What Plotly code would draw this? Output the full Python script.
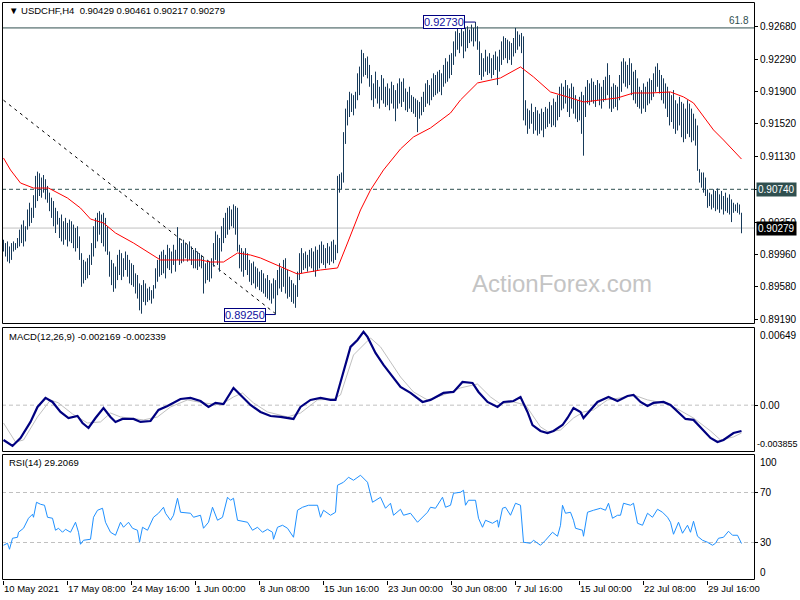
import plotly.graph_objects as go

# ---------------- data ----------------
title_text = "USDCHF,H4\u00a0\u00a00.90429 0.90461 0.90217 0.90279"
macd_text = "MACD(12,26,9) -0.002169 -0.002339"
rsi_text = "RSI(14) 29.2069"

time_label_bars = [0, 32, 64, 96, 128, 160, 192, 224, 256, 288, 320, 352]
time_labels = ["10 May 2021", "17 May 08:00", "24 May 16:00", "1 Jun 00:00", "8 Jun 08:00",
               "15 Jun 16:00", "23 Jun 00:00", "30 Jun 08:00", "7 Jul 16:00", "15 Jul 00:00",
               "22 Jul 08:00", "29 Jul 16:00"]

price_ticks = [0.92680, 0.92290, 0.91900, 0.91520, 0.91130, 0.90740, 0.90350, 0.89960, 0.89580, 0.89190]

bar_high = [
    .9014, .9010, .9012, .9006, .9010, .9012, .9010, .9016, .9026, .9032,
    .9037, .9030, .9050, .9058, .9052, .9067, .9090, .9095, .9093, .9088,
    .9091, .9086, .9078, .9070, .9064, .9060, .9052, .9048, .9040, .9044,
    .9036, .9040, .9034, .9038, .9036, .9032, .9028, .9030, .9018, .8998,
    .8990, .8988, .8992, .8996, .9010, .9030, .9040, .9046, .9048, .9044,
    .9046, .9040, .9030, .9000, .8990, .8986, .8982, .8996, .9002, .8998,
    .8992, .9000, .8996, .8990, .8986, .8984, .8974, .8972, .8962, .8960,
    .8966, .8962, .8956, .8958, .8954, .8960, .8980, .8990, .8996, .9000,
    .9002, .8996, .9008, .9004, .9000, .9008, .9002, .9029, .9016, .9010,
    .9014, .9010, .9008, .9012, .9006, .9002, .9004, .9000, .8998, .8996,
    .8992, .8986, .8990, .8988, .8992, .9010, .9024, .9020, .9016, .9030,
    .9040, .9046, .9052, .9054, .9050, .9056, .9054, .9052, .9008, .9004,
    .9000, .9004, .8998, .8990, .8986, .8988, .8982, .8980, .8976, .8978,
    .8974, .8968, .8972, .8966, .8962, .8968, .8966, .8978, .8986, .8980,
    .8990, .8992, .8978, .8970, .8966, .8962, .8960, .8976, .8998, .9004,
    .8998, .9000, .8996, .9002, .9004, .9000, .9006, .9002, .9008, .9012,
    .9008, .9004, .9010, .9006, .9012, .9014, .9008, .9090, .9092, .9094,
    .9142, .9170, .9180, .9190, .9188, .9186, .9190, .9212, .9220, .9240,
    .9236, .9230, .9232, .9222, .9210, .9200, .9214, .9204, .9196, .9210,
    .9206, .9196, .9200, .9194, .9202, .9198, .9192, .9200, .9206, .9202,
    .9206, .9194, .9190, .9196, .9186, .9184, .9182, .9180, .9178, .9184,
    .9190, .9200, .9204, .9198, .9206, .9212, .9210, .9214, .9216, .9212,
    .9222, .9230, .9226, .9234, .9236, .9250, .9262, .9266, .9260, .9268,
    .9262, .9266, .9268, .9264, .9270, .9266, .9273, .9268, .9250, .9236,
    .9230, .9240, .9232, .9236, .9230, .9234, .9238, .9232, .9240, .9250,
    .9256, .9254, .9252, .9250, .9248, .9254, .9266, .9262, .9258, .9260,
    .9256, .9180, .9170, .9168, .9176, .9166, .9172, .9168, .9164, .9170,
    .9166, .9172, .9170, .9178, .9174, .9182, .9178, .9186, .9196, .9200,
    .9196, .9204, .9198, .9194, .9200, .9196, .9186, .9180, .9184, .9190,
    .9186, .9196, .9204, .9200, .9206, .9202, .9198, .9204, .9200, .9196,
    .9204, .9208, .9224, .9210, .9196, .9200, .9198, .9196, .9210, .9226,
    .9230, .9226, .9222, .9230, .9224, .9214, .9216, .9206, .9196, .9192,
    .9200, .9196, .9202, .9206, .9204, .9212, .9220, .9224, .9216, .9210,
    .9206, .9200, .9196, .9190, .9186, .9192, .9180, .9176, .9184, .9178,
    .9176, .9170, .9180, .9176, .9170, .9164, .9158, .9150, .9098, .9094,
    .9094, .9088, .9074, .9070, .9068, .9074, .9072, .9075, .9068, .9072,
    .9066, .9070, .9064, .9068, .9062, .9058, .9056, .9058, .9056, .90461,
]

bar_low = [
    .9000, .8994, .8988, .8986, .8990, .9000, .9002, .9004, .9006, .9010,
    .9006, .9012, .9026, .9030, .9034, .9040, .9052, .9060, .9066, .9064,
    .9070, .9062, .9058, .9048, .9040, .9030, .9022, .9032, .9016, .9012,
    .9008, .9014, .9006, .9012, .9010, .9004, .9000, .9004, .8990, .8958,
    .8962, .8966, .8968, .8972, .8984, .8994, .9004, .9012, .9020, .9010,
    .9006, .9000, .8996, .8970, .8960, .8952, .8956, .8966, .8972, .8966,
    .8970, .8978, .8970, .8962, .8960, .8958, .8950, .8944, .8930, .8926,
    .8940, .8936, .8940, .8942, .8938, .8944, .8956, .8964, .8970, .8972,
    .8974, .8968, .8980, .8978, .8974, .8984, .8976, .8990, .8984, .8986,
    .8988, .8992, .8988, .8990, .8984, .8980, .8980, .8978, .8982, .8980,
    .8950, .8962, .8966, .8964, .8968, .8982, .8990, .8984, .8976, .9000,
    .9010, .9016, .9020, .9026, .9030, .9028, .9020, .9000, .8980, .8976,
    .8970, .8978, .8972, .8964, .8960, .8962, .8956, .8958, .8954, .8952,
    .8950, .8946, .8944, .8942, .8938, .8944, .8925, .8948, .8956, .8952,
    .8958, .8950, .8944, .8946, .8940, .8938, .8933, .8946, .8966, .8974,
    .8978, .8980, .8976, .8982, .8980, .8976, .8970, .8978, .8980, .8986,
    .8984, .8980, .8986, .8984, .8988, .8986, .8990, .8998, .9070, .9074,
    .9082, .9128, .9150, .9160, .9166, .9162, .9170, .9180, .9186, .9200,
    .9208, .9210, .9206, .9196, .9180, .9172, .9182, .9176, .9170, .9180,
    .9176, .9172, .9174, .9168, .9176, .9170, .9155, .9170, .9176, .9172,
    .9178, .9168, .9166, .9170, .9166, .9164, .9160, .9142, .9158, .9162,
    .9166, .9172, .9176, .9174, .9180, .9184, .9186, .9188, .9190, .9186,
    .9196, .9200, .9202, .9206, .9210, .9222, .9232, .9240, .9236, .9244,
    .9230, .9238, .9242, .9248, .9250, .9244, .9250, .9240, .9210, .9204,
    .9208, .9214, .9210, .9212, .9206, .9210, .9216, .9198, .9214, .9222,
    .9228, .9230, .9224, .9228, .9222, .9232, .9236, .9240, .9244, .9236,
    .9156, .9150, .9140, .9146, .9152, .9140, .9144, .9138, .9140, .9144,
    .9136, .9146, .9148, .9152, .9148, .9150, .9148, .9156, .9160, .9168,
    .9170, .9176, .9166, .9160, .9170, .9164, .9158, .9154, .9156, .9140,
    .9114, .9160, .9176, .9174, .9178, .9176, .9172, .9180, .9174, .9170,
    .9178, .9180, .9186, .9170, .9166, .9170, .9172, .9168, .9180, .9190,
    .9200, .9196, .9194, .9198, .9186, .9180, .9176, .9172, .9170, .9164,
    .9170, .9166, .9174, .9176, .9180, .9184, .9190, .9196, .9188, .9180,
    .9176, .9170, .9160, .9150, .9154, .9146, .9140, .9144, .9150, .9136,
    .9130, .9134, .9140, .9136, .9130, .9132, .9126, .9096, .9082, .9076,
    .9070, .9066, .9052, .9054, .9050, .9052, .9048, .9050, .9046, .9050,
    .9044, .9048, .9046, .9044, .9035, .9046, .9048, .9046, .9044, .90217,
]

ma_bar = [0, 3.5, 8.5, 15, 22.5, 32, 38.5, 43.5, 50, 56, 65, 72, 78.5, 88.5, 98.5, 103.5, 110,
          117, 123.5, 128.5, 140, 147, 158.5, 167, 172, 178.5, 183.5, 190, 198.5, 205, 213.5,
          223.5, 228.5, 237, 248.5, 258.5, 265, 273.5, 282, 290, 298.5, 307, 315, 323.5, 333.5,
          340, 345, 350, 355, 360, 369]
ma_value = [.91112, .90970, .90815, .90755, .90755, .90636, .90517, .90386, .90339, .90220,
            .90101, .89994, .89899, .89899, .89899, .89875, .89875, .89982, .89958, .89923,
            .89804, .89732, .89780, .89804, .90101, .90494, .90732, .90970, .91220, .91363,
            .91470, .91648, .91803, .92005, .92065, .92196, .92077, .91898, .91839, .91779,
            .91803, .91827, .91886, .91886, .91898, .91839, .91767, .91600, .91446, .91327,
            .91100]

macd_bar = [0, 4.5, 8.5, 13.5, 17, 21, 24.5, 28.5, 32.5, 37, 39.5, 42.5, 46, 50, 53.5, 56, 59.5,
            65, 68.5, 73.5, 77.5, 82, 88.5, 93.5, 98.5, 102.5, 106, 110, 115, 118.5, 123.5,
            128.5, 133.5, 138.5, 145, 148.5, 153.5, 158.5, 163.5, 166, 170, 173.5, 177, 180,
            182, 186, 190, 194.5, 198.5, 203.5, 209.5, 213.5, 220, 225, 229.5, 234.5, 237.5,
            242, 247, 250, 255, 258.5, 262, 264.5, 268.5, 272, 275, 279.5, 282, 285, 288.5,
            290, 293.5, 297, 302.5, 307, 312, 315, 318.5, 322, 325, 330, 333.5, 338.5, 341,
            345, 348.5, 353.5, 357, 360, 365, 369]
macd_value = [-0.00293, -0.00343, -0.00276, -0.00141, -0.00015, 0.00061, 0.00027, -0.00057,
              -0.00108, -0.00091, -0.00150, -0.00192, -0.00108, -0.00024, -0.00099, -0.00141,
              -0.00116, -0.00116, -0.00141, -0.00133, -0.00040, -0.00007, 0.00052, 0.00061,
              0.00035, -0.00015, 0.00019, 0.00010, 0.00145, 0.00086, 0.00002, -0.00057,
              -0.00091, -0.00099, -0.00116, -0.00015, 0.00044, 0.00061, 0.00044, 0.00044,
              0.00279, 0.00490, 0.00548, 0.00616, 0.00574, 0.00439, 0.00338, 0.00237, 0.00153,
              0.00103, 0.00027, 0.00044, 0.00103, 0.00111, 0.00195, 0.00187, 0.00111, 0.00027,
              -0.00015, 0.00027, 0.00035, 0.00069, -0.00057, -0.00167, -0.00217, -0.00234,
              -0.00217, -0.00167, -0.00108, -0.00024, -0.00057, -0.00108, -0.00040, 0.00027,
              0.00069, 0.00035, 0.00077, 0.00086, 0.00027, -0.00007, 0.00019, 0.00027, 0.00002,
              -0.00082, -0.00116, -0.00124, -0.00183, -0.00276, -0.00310, -0.00293, -0.00234,
              -0.002169]

signal_bar = [0, 6, 10, 17, 23.5, 27.5, 34.5, 42, 48.5, 53.5, 58.5, 70, 77, 83.5, 92, 100,
              108.5, 115, 119.5, 125, 132, 142, 148.5, 157, 165, 168.5, 175, 183.5, 188.5,
              198.5, 205, 212, 220, 228.5, 237, 243.5, 248.5, 255, 261, 268.5, 272.5, 278.5,
              285, 290, 295, 302, 308.5, 315, 322, 330, 337, 345, 353.5, 358.5, 365, 369]
signal_value = [-0.00150, -0.00310, -0.00293, -0.00099, 0.00044, 0.00019, -0.00074, -0.00150,
                -0.00141, -0.00066, -0.00099, -0.00124, -0.00099, -0.00015, 0.00044, 0.00019,
                0.00002, 0.00069, 0.00103, 0.00019, -0.00057, -0.00099, -0.00066, 0.00044,
                0.00052, 0.00086, 0.00422, 0.00565, 0.00490, 0.00237, 0.00111, 0.00044,
                0.00086, 0.00145, 0.00178, 0.00069, 0.00010, 0.00027, 0.00002, -0.00183,
                -0.00225, -0.00209, -0.00108, -0.00057, -0.00040, 0.00044, 0.00061, 0.00086,
                0.00044, 0.00019, -0.00032, -0.00108, -0.00217, -0.00293, -0.00267, -0.002339]

rsi_bar = [0, 2, 3, 4.5, 7, 7.5, 10, 12.5, 14.5, 15, 16.5, 18.5, 20.5, 22, 24.5, 26, 27.5,
           29.5, 31, 33.5, 36, 37.5, 38.5, 40, 43.5, 45, 47, 49.5, 51, 53.5, 56, 58.5, 60,
           62.5, 64.5, 67, 68, 69.5, 72, 75, 77.5, 80, 81, 83.5, 85, 87, 88.5, 93.5, 95,
           98.5, 100, 102.5, 104.5, 105, 107, 109.5, 112, 113.5, 115, 117, 122, 124.5, 127,
           129.5, 132, 134.5, 135, 137, 139.5, 142, 144.5, 145, 147, 149.5, 152.5, 157, 158.5,
           160, 163.5, 166, 167, 170, 172.5, 175, 178.5, 182, 184.5, 188.5, 191, 193.5, 195,
           198.5, 200, 203.5, 207, 209.5, 212, 213.5, 216, 219.5, 221, 223.5, 225, 228.5, 230,
           231, 232.5, 236, 237.5, 239.5, 241, 244.5, 247, 247.5, 249.5, 251, 253.5, 256,
           258.5, 260, 263.5, 265, 268.5, 271, 274.5, 277, 278.5, 279.5, 281, 283.5, 285, 286,
           289.5, 290, 292, 295, 298.5, 301, 302.5, 304.5, 307, 308.5, 310, 313.5, 315, 317,
           319.5, 322, 324.5, 327, 329.5, 332, 333.5, 335, 337.5, 339.5, 342, 343.5, 345, 347,
           349.5, 352, 354.5, 356, 357.5, 360, 362.5, 364.5, 367, 369]
rsi_value = [27.8, 29.4, 24.6, 33.4, 34.2, 38.2, 41.4, 49.4, 52.6, 50.2, 62.2, 60.6, 59.8,
             50.2, 49.4, 39.8, 41.4, 38.2, 40.6, 38.2, 46.2, 38.2, 28.6, 31.8, 32.6, 50.2,
             55.8, 57.4, 46.2, 38.2, 35.8, 46.2, 42.2, 46.2, 41.4, 39.8, 30.2, 42.2, 39.8,
             50.2, 53.4, 58.2, 53.4, 47.8, 51.8, 65.4, 54.2, 53.4, 50.2, 51.8, 41.4, 46.2,
             58.2, 55.8, 47.8, 50.2, 66.2, 63.8, 65.4, 47.8, 46.2, 39.8, 42.2, 38.2, 40.6,
             38.2, 32.6, 42.2, 43.8, 41.4, 35.8, 34.2, 55.8, 58.2, 59.8, 59.8, 50.2, 55.8,
             51.8, 54.2, 75.8, 78.2, 82.2, 79.8, 83.8, 78.2, 62.2, 66.2, 57.4, 61.4, 51.8,
             56.6, 51.8, 53.4, 46.2, 50.2, 54.2, 58.2, 57.4, 66.2, 58.2, 59.8, 69.4, 70.2,
             71.8, 59.8, 63.8, 63.8, 49.4, 42.2, 47.8, 45.4, 47.8, 42.2, 57.4, 58.2, 51.8,
             61.4, 59.8, 30.2, 29.4, 31.8, 27.8, 31.8, 38.2, 35.0, 43.8, 59.8, 53.4, 54.2,
             47.8, 41.4, 39.8, 35.0, 54.2, 55.8, 57.4, 55.8, 61.4, 49.4, 51.8, 51.8, 61.4,
             59.8, 61.4, 45.4, 43.8, 53.4, 50.2, 56.6, 54.2, 50.2, 46.2, 36.6, 46.2, 37.4,
             43.8, 38.2, 47.0, 35.0, 31.8, 30.2, 27.8, 29.4, 33.4, 34.2, 39.0, 35.8, 35.8,
             29.2069]

fib_level = 0.92660
fib_text = "61.8"
support_level = 0.90740
last_price = 0.90279
swing_high_bar, swing_high = 236, 0.92730
swing_low_bar, swing_low = 136, 0.89250
trend_bars = [0, 136]
trend_prices = [0.91800, 0.89260]
macd_min, macd_max = -0.003855, 0.00649
rsi_levels = [70, 30]
watermark = "ActionForex.com"

# ---------------- layout geometry ----------------
W, H = 800, 600
L, R, T, B = 2, 46, 3, 20
PW, PH = W - L - R, H - T - B          # plot area size


def yp(px):   # page pixel row -> paper fraction
    return (H - B - px) / PH


def xp(px):   # page pixel column -> paper fraction
    return (px - L) / PW


main_dom = [yp(324), 1.0]
macd_dom = [yp(451), yp(328)]
rsi_dom = [0.0, yp(455)]
main_range = [0.891374, 0.929566]

FONT = "Liberation Sans, Arial, sans-serif"
BAR_C = "#173a5a"
SLATE = "#2F4F4F"

# ---------------- traces ----------------
bx, by = [], []
for i, (h, l) in enumerate(zip(bar_high, bar_low)):
    bx += [i, i, None]
    by += [l, h, None]

fig = go.Figure()
fig.add_trace(go.Scatter(x=bx, y=by, mode="lines", line=dict(color=BAR_C, width=1),
                         hoverinfo="skip", yaxis="y"))
fig.add_trace(go.Scatter(x=ma_bar, y=ma_value, mode="lines", line=dict(color="#FF0000", width=1),
                         yaxis="y"))
fig.add_trace(go.Scatter(x=signal_bar, y=signal_value, mode="lines",
                         line=dict(color="#C0C0C0", width=1), yaxis="y2"))
fig.add_trace(go.Scatter(x=macd_bar, y=macd_value, mode="lines",
                         line=dict(color="#000080", width=2.2), yaxis="y2"))
fig.add_trace(go.Scatter(x=rsi_bar, y=rsi_value, mode="lines",
                         line=dict(color="#1E90FF", width=1), yaxis="y3"))

# the highlighted 0.90740 level carries its own boxed label, so its plain tick text is blank
price_tick_text = ["" if abs(v - support_level) < 1e-9 else "%.5f" % v for v in price_ticks]

n = len(bar_high)
fig.update_layout(
    width=W, height=H, margin=dict(l=L, r=R, t=T, b=B, autoexpand=False),
    paper_bgcolor="white", plot_bgcolor="white", showlegend=False,
    font=dict(family=FONT, size=10, color="black"),
    xaxis=dict(domain=[0, 1], range=[-0.75, n + 5.25], anchor="y3",
               tickvals=time_label_bars, ticktext=time_labels, ticks="outside", ticklen=4,
               tickcolor="black", ticklabelposition="outside right", tickangle=0,
               automargin=False, tickfont=dict(size=9.5), showgrid=False, zeroline=False,
               showline=False),
    yaxis=dict(domain=main_dom, range=main_range, side="right", anchor="x", automargin=False,
               tickvals=price_ticks, ticktext=price_tick_text,
               ticks="outside", ticklen=3, tickcolor="black", tickfont=dict(size=10),
               showgrid=False, zeroline=False),
    yaxis2=dict(domain=macd_dom, range=[macd_min, macd_max], side="right", anchor="x",
                automargin=False, tickvals=[0], ticktext=["0.00"], ticks="outside", ticklen=3,
                tickcolor="black", tickfont=dict(size=10), showgrid=False, zeroline=False),
    yaxis3=dict(domain=rsi_dom, range=[0, 100], side="right", anchor="x", automargin=False,
                tickvals=rsi_levels, ticktext=[str(v) for v in rsi_levels], ticks="outside",
                ticklen=3, tickcolor="black", tickfont=dict(size=10), showgrid=False,
                zeroline=False),
)

# ---------------- shapes ----------------
shapes = []
shapes.append(dict(type="line", xref="paper", x0=0, x1=1, yref="y", y0=fib_level, y1=fib_level,
                   line=dict(color=SLATE, width=1), layer="below"))
shapes.append(dict(type="line", xref="paper", x0=0, x1=1, yref="y", y0=support_level,
                   y1=support_level, line=dict(color=SLATE, width=1, dash="4px,3px"),
                   layer="below"))
shapes.append(dict(type="line", xref="paper", x0=0, x1=1, yref="y", y0=last_price, y1=last_price,
                   line=dict(color="#C0C0C0", width=1), layer="below"))
shapes.append(dict(type="line", xref="x", yref="y", x0=trend_bars[0], y0=trend_prices[0],
                   x1=trend_bars[1], y1=trend_prices[1],
                   line=dict(color="black", width=1, dash="3px,4px"), layer="below"))
shapes.append(dict(type="line", xref="paper", x0=0, x1=1, yref="y2", y0=0, y1=0,
                   line=dict(color="#C0C0C0", width=1, dash="4px,3px"), layer="below"))
for lv in rsi_levels:
    shapes.append(dict(type="line", xref="paper", x0=0, x1=1, yref="y3", y0=lv, y1=lv,
                       line=dict(color="#C0C0C0", width=1, dash="4px,3px"), layer="below"))
for top, bot in [(2.5, 323.5), (327.5, 451.5), (454.5, 579.5)]:
    shapes.append(dict(type="rect", xref="paper", yref="paper", x0=xp(2.5), x1=xp(754.5),
                       y0=yp(bot), y1=yp(top), line=dict(color="black", width=1),
                       fillcolor="rgba(0,0,0,0)"))
fig.update_layout(shapes=shapes)

# ---------------- annotations ----------------
ann = []
ann.append(dict(xref="paper", yref="paper", x=xp(7), y=yp(10), xanchor="left", yanchor="middle",
                text="\u25BC " + title_text, showarrow=False, font=dict(size=9.5, color="black")))
ann.append(dict(xref="paper", yref="paper", x=xp(7), y=yp(336), xanchor="left", yanchor="middle",
                text=macd_text, showarrow=False, font=dict(size=9.5, color="black")))
ann.append(dict(xref="paper", yref="paper", x=xp(7), y=yp(463), xanchor="left", yanchor="middle",
                text=rsi_text, showarrow=False, font=dict(size=9.5, color="black")))
ann.append(dict(xref="paper", yref="y", x=xp(751), y=fib_level, xanchor="right", yanchor="bottom",
                text=fib_text, showarrow=False, font=dict(size=10, color=SLATE)))
ann.append(dict(xref="paper", yref="paper", x=xp(562), y=yp(283), xanchor="center",
                yanchor="middle", text=watermark, showarrow=False,
                font=dict(size=24, color="#C4C4C4")))
ann.append(dict(xref="paper", yref="y", x=1, y=support_level, xanchor="left", xshift=2,
                text="%.5f" % support_level, showarrow=False, bgcolor=SLATE, borderpad=1,
                font=dict(size=10, color="white")))
ann.append(dict(xref="paper", yref="y", x=1, y=last_price, xanchor="left", xshift=2,
                text="%.5f" % last_price, showarrow=False, bgcolor="black", borderpad=1,
                font=dict(size=10, color="white")))
ann.append(dict(xref="paper", yref="y2", x=1, y=macd_max, xanchor="left", yanchor="top",
                xshift=4, text="%.5f" % macd_max, showarrow=False, font=dict(size=10)))
ann.append(dict(xref="paper", yref="y2", x=1, y=macd_min, xanchor="left", yanchor="bottom",
                xshift=1, text="%.6f" % macd_min, showarrow=False, font=dict(size=9)))
ann.append(dict(xref="paper", yref="y3", x=1, y=100, xanchor="left", yanchor="top",
                xshift=4, text="100", showarrow=False, font=dict(size=10)))
ann.append(dict(xref="paper", yref="y3", x=1, y=0, xanchor="left", yanchor="bottom",
                xshift=4, text="0", showarrow=False, font=dict(size=10)))
ann.append(dict(xref="x", yref="y", x=swing_high_bar, y=swing_high, text="%.5f" % swing_high,
                showarrow=True, arrowhead=0, arrowwidth=1, arrowcolor="#000080", ax=-32, ay=0,
                standoff=0, bordercolor="#000080", borderwidth=1, borderpad=0, bgcolor="white",
                font=dict(size=11, color="#1010A0")))
ann.append(dict(xref="x", yref="y", x=swing_low_bar, y=swing_low, text="%.5f" % swing_low,
                showarrow=True, arrowhead=0, arrowwidth=1, arrowcolor="#000080", ax=-31, ay=0,
                standoff=0, bordercolor="#000080", borderwidth=1, borderpad=0, bgcolor="white",
                font=dict(size=11, color="#1010A0")))
fig.update_layout(annotations=ann)

fig.write_html("out.html", config={"displayModeBar": False},
               post_script="document.body.style.margin='0px';")
